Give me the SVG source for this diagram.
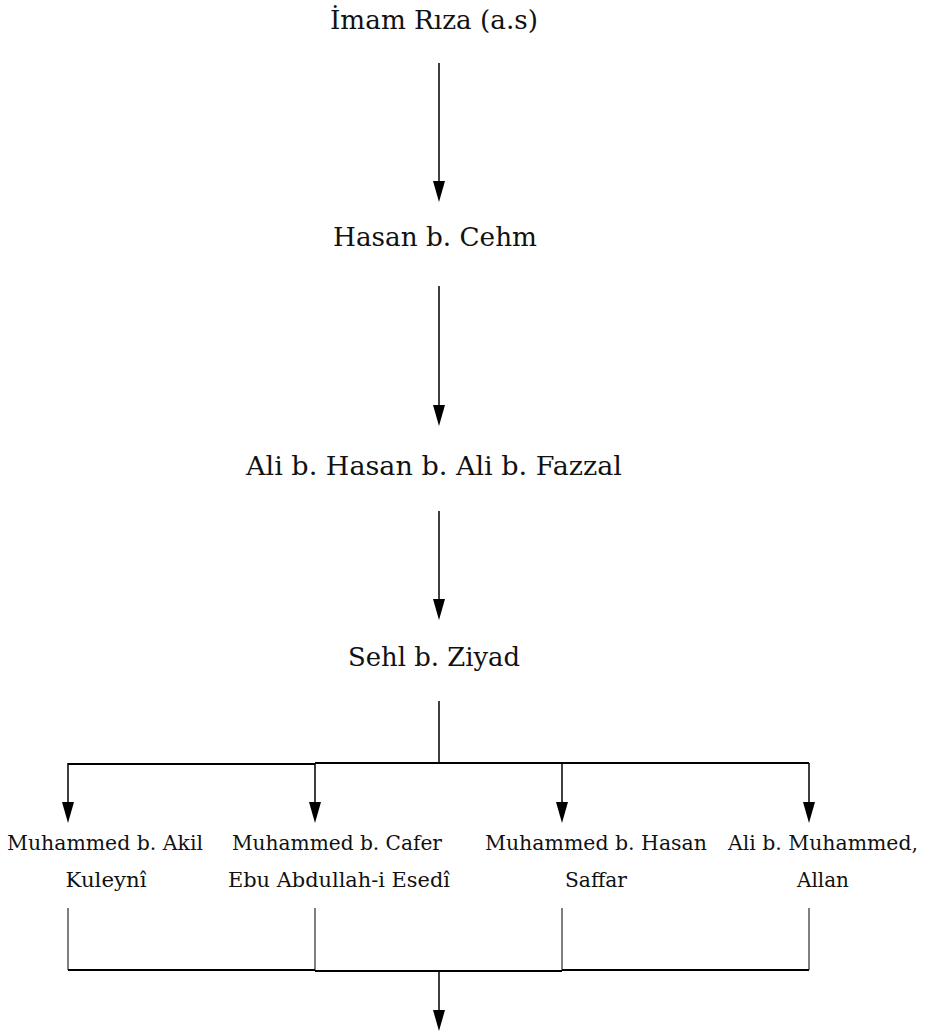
<svg xmlns="http://www.w3.org/2000/svg" width="931" height="1036" viewBox="0 0 931 1036">
<style>
.t{font-family:"DejaVu Serif","Liberation Serif",serif;font-size:26px;fill:#111;text-anchor:middle}
.s{font-family:"DejaVu Serif","Liberation Serif",serif;font-size:21px;fill:#111;text-anchor:middle}
.ln{stroke:#000;stroke-width:1.5;fill:none}
.thin{stroke:#000;stroke-width:1;fill:none}
.thick{stroke:#000;stroke-width:2.2;fill:none}
.head{fill:#000}
</style>
<g id="connectors">
<line class="ln" x1="439" y1="63" x2="439" y2="181"/>
<path class="head" d="M433,181 L445,181 L439,202 Z"/>
<line class="ln" x1="439" y1="286" x2="439" y2="405"/>
<path class="head" d="M433,405 L445,405 L439,426 Z"/>
<line class="ln" x1="439" y1="511" x2="439" y2="599"/>
<path class="head" d="M433,599 L445,599 L439,620 Z"/>
<line class="ln" x1="439" y1="701" x2="439" y2="763"/>
<line class="thick" x1="68" y1="764" x2="315" y2="764"/>
<line class="thick" x1="315" y1="763" x2="809" y2="763"/>
<line class="ln" x1="68" y1="763" x2="68" y2="802"/>
<path class="head" d="M62,802 L74,802 L68,823 Z"/>
<line class="ln" x1="315" y1="763" x2="315" y2="802"/>
<path class="head" d="M309,802 L321,802 L315,823 Z"/>
<line class="ln" x1="562" y1="763" x2="562" y2="802"/>
<path class="head" d="M556,802 L568,802 L562,823 Z"/>
<line class="ln" x1="809" y1="763" x2="809" y2="802"/>
<path class="head" d="M803,802 L815,802 L809,823 Z"/>
<line class="thin" x1="68" y1="908" x2="68" y2="970"/>
<line class="thin" x1="315" y1="908" x2="315" y2="971"/>
<line class="thin" x1="562" y1="908" x2="562" y2="971"/>
<line class="thin" x1="809" y1="908" x2="809" y2="970"/>
<line class="thick" x1="68" y1="970" x2="315" y2="970"/>
<line class="thick" x1="315" y1="971" x2="562" y2="971"/>
<line class="thick" x1="562" y1="970" x2="809" y2="970"/>
<line class="ln" x1="439" y1="971" x2="439" y2="1010"/>
<path class="head" d="M433,1010 L445,1010 L439,1031 Z"/>
</g>
<g id="n1"><text class="t" x="434" y="29" textLength="208" lengthAdjust="spacingAndGlyphs">İmam Rıza (a.s)</text></g>
<g id="n2"><text class="t" x="435" y="246" textLength="204" lengthAdjust="spacingAndGlyphs">Hasan b. Cehm</text></g>
<g id="n3"><text class="t" x="434" y="475" textLength="376" lengthAdjust="spacingAndGlyphs">Ali b. Hasan b. Ali b. Fazzal</text></g>
<g id="n4"><text class="t" x="434" y="666" textLength="172" lengthAdjust="spacingAndGlyphs">Sehl b. Ziyad</text></g>
<g id="n5"><text class="s" x="105" y="850" textLength="196" lengthAdjust="spacingAndGlyphs">Muhammed b. Akil</text><text class="s" x="106" y="887" textLength="81" lengthAdjust="spacingAndGlyphs">Kuleynî</text></g>
<g id="n6"><text class="s" x="337" y="850" textLength="210" lengthAdjust="spacingAndGlyphs">Muhammed b. Cafer</text><text class="s" x="339" y="887" textLength="222" lengthAdjust="spacingAndGlyphs">Ebu Abdullah-i Esedî</text></g>
<g id="n7"><text class="s" x="596" y="850" textLength="222" lengthAdjust="spacingAndGlyphs">Muhammed b. Hasan</text><text class="s" x="596" y="887" textLength="62" lengthAdjust="spacingAndGlyphs">Saffar</text></g>
<g id="n8"><text class="s" x="823" y="850" textLength="190" lengthAdjust="spacingAndGlyphs">Ali b. Muhammed,</text><text class="s" x="823" y="887" textLength="52" lengthAdjust="spacingAndGlyphs">Allan</text></g>
</svg>
